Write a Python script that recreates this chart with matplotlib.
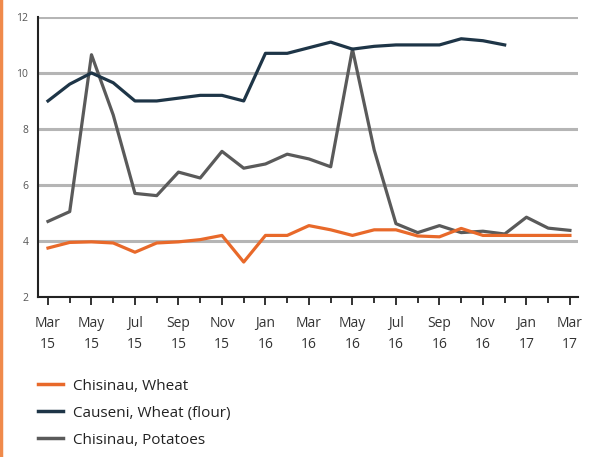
import numpy as np
import matplotlib.pyplot as plt
from matplotlib.lines import Line2D

plt.rcParams['font.family'] = ['Open Sans', 'DejaVu Sans']

# monthly data, Mar 2015 - Mar 2017
months = ['Mar\n15', 'Apr\n15', 'May\n15', 'Jun\n15', 'Jul\n15', 'Aug\n15', 'Sep\n15',
          'Oct\n15', 'Nov\n15', 'Dec\n15', 'Jan\n16', 'Feb\n16', 'Mar\n16', 'Apr\n16',
          'May\n16', 'Jun\n16', 'Jul\n16', 'Aug\n16', 'Sep\n16', 'Oct\n16', 'Nov\n16',
          'Dec\n16', 'Jan\n17', 'Feb\n17', 'Mar\n17']

chisinau_wheat = [3.75, 3.95, 3.97, 3.93, 3.6, 3.93, 3.97, 4.05, 4.2, 3.25, 4.2, 4.2,
                  4.55, 4.4, 4.2, 4.4, 4.4, 4.18, 4.15, 4.45, 4.2, 4.2, 4.2, 4.2, 4.2]
causeni_flour = [9.0, 9.6, 10.0, 9.65, 9.0, 9.0, 9.1, 9.2, 9.2, 9.0, 10.7, 10.7,
                 10.9, 11.1, 10.85, 10.95, 11.0, 11.0, 11.0, 11.22, 11.15, 11.0,
                 np.nan, np.nan, np.nan]
chisinau_potatoes = [4.7, 5.05, 10.65, 8.5, 5.7, 5.62, 6.46, 6.25, 7.2, 6.6, 6.75, 7.1,
                     6.93, 6.65, 10.85, 7.25, 4.62, 4.3, 4.55, 4.3, 4.35, 4.25, 4.85,
                     4.46, 4.38]

series_names = ['Chisinau, Wheat', 'Causeni, Wheat (flour)', 'Chisinau, Potatoes']
colors = ['#e8692a', '#1e3547', '#5a5a5a']

x = np.arange(len(months))

fig = plt.figure(figsize=(5.99, 4.57), dpi=100)
ax = fig.add_axes([0.0634, 0.350, 0.9015, 0.613])

# gridlines
ax.set_ylim(2, 12)
ax.set_yticks([2, 4, 6, 8, 10, 12])
ax.yaxis.grid(True, color='#b5b5b5', linewidth=2.2)
ax.set_axisbelow(True)

ax.plot(x, chisinau_potatoes, color=colors[2], linewidth=2.3, zorder=3)
ax.plot(x, chisinau_wheat, color=colors[0], linewidth=2.3, zorder=4)
ax.plot(x, causeni_flour, color=colors[1], linewidth=2.3, zorder=5)

ax.set_xlim(-0.46, len(months) - 1 + 0.37)
ax.set_xticks(x[::2])
ax.set_xticklabels(months[::2], fontsize=10, color='#333333', linespacing=1.5)
ax.set_xticks(x[1::2], minor=True)
ax.tick_params(axis='x', which='major', length=6, width=1.3, color='#222222', pad=8)
ax.tick_params(axis='x', which='minor', length=4, width=1.3, color='#222222')
ax.tick_params(axis='y', length=0, labelsize=7.5, labelcolor='#555555', pad=7)

for side in ['top', 'right']:
    ax.spines[side].set_visible(False)
ax.spines['left'].set_color('#222222')
ax.spines['left'].set_linewidth(1.5)
ax.spines['bottom'].set_color('#222222')
ax.spines['bottom'].set_linewidth(1.5)

# legend below chart
handles = [Line2D([0], [0], color=c, linewidth=2.5) for c in colors]
fig.legend(handles, series_names, loc='upper left', bbox_to_anchor=(0.05, 0.188),
           frameon=False, fontsize=11, handlelength=1.65, handletextpad=0.65,
           labelspacing=0.78, borderpad=0, labelcolor='#222222')

# orange page border on the left edge
fig.add_artist(Line2D([0.002, 0.002], [0, 1], color='#f08a4b', linewidth=2.5,
                      transform=fig.transFigure))

fig.savefig('out.png', dpi=100)
